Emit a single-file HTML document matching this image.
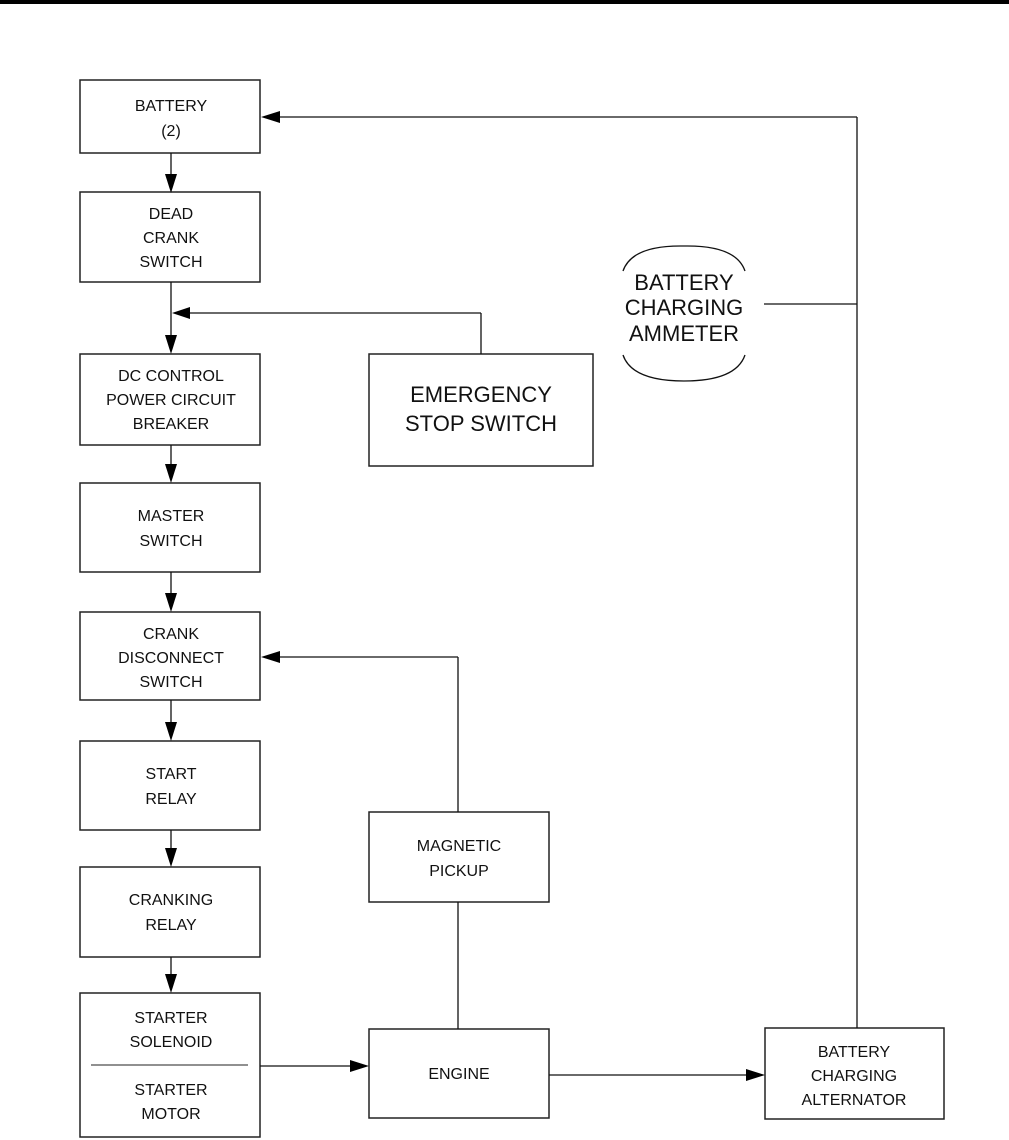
<!DOCTYPE html>
<html><head><style>
html,body{margin:0;padding:0;background:#fff;}
svg{display:block;}
text{font-family:"Liberation Sans",Arial,sans-serif;fill:#111;text-anchor:middle;}
</style></head><body>
<svg width="1009" height="1140" viewBox="0 0 1009 1140" xmlns="http://www.w3.org/2000/svg">
<rect x="0" y="0" width="1009" height="4" fill="#000"/>
<g fill="none" stroke="#222" stroke-width="1.5">
<rect x="80" y="80" width="180" height="73"/>
<rect x="80" y="192" width="180" height="90"/>
<rect x="80" y="354" width="180" height="91"/>
<rect x="80" y="483" width="180" height="89"/>
<rect x="80" y="612" width="180" height="88"/>
<rect x="80" y="741" width="180" height="89"/>
<rect x="80" y="867" width="180" height="90"/>
<rect x="80" y="993" width="180" height="144"/>
<line x1="91" y1="1065" x2="248" y2="1065" stroke-width="1"/>
<rect x="369" y="354" width="224" height="112"/>
<rect x="369" y="812" width="180" height="90"/>
<rect x="369" y="1029" width="180" height="89"/>
<rect x="765" y="1028" width="179" height="91"/>
</g>
<g stroke="#111" stroke-width="1.3" fill="none">
<line x1="857" y1="117" x2="275" y2="117"/>
<line x1="857" y1="117" x2="857" y2="1028"/>
<line x1="764" y1="304" x2="857" y2="304"/>
<line x1="171" y1="153" x2="171" y2="178"/>
<line x1="171" y1="282" x2="171" y2="340"/>
<line x1="481" y1="313" x2="185" y2="313"/>
<line x1="481" y1="313" x2="481" y2="354"/>
<line x1="171" y1="445" x2="171" y2="469"/>
<line x1="171" y1="572" x2="171" y2="598"/>
<line x1="171" y1="700" x2="171" y2="727"/>
<line x1="171" y1="830" x2="171" y2="853"/>
<line x1="171" y1="957" x2="171" y2="979"/>
<line x1="458" y1="657" x2="275" y2="657"/>
<line x1="458" y1="657" x2="458" y2="812"/>
<line x1="458" y1="902" x2="458" y2="1029"/>
<line x1="260" y1="1066" x2="355" y2="1066"/>
<line x1="549" y1="1075" x2="751" y2="1075"/>
<path d="M623 271 Q632 245 684 246 Q736 245 745 271"/>
<path d="M623 355 Q632 381 684 381 Q736 381 745 355"/>
</g>
<g fill="#000">
<polygon points="261,117 280,111 280,123"/>
<polygon points="171,193 165,174 177,174"/>
<polygon points="172,313 190,307 190,319"/>
<polygon points="171,354 165,335 177,335"/>
<polygon points="171,483 165,464 177,464"/>
<polygon points="171,612 165,593 177,593"/>
<polygon points="261,657 280,651 280,663"/>
<polygon points="171,741 165,722 177,722"/>
<polygon points="171,867 165,848 177,848"/>
<polygon points="171,993 165,974 177,974"/>
<polygon points="369,1066 350,1060 350,1072"/>
<polygon points="765,1075 746,1069 746,1081"/>
</g>
<g font-size="16">
<text x="171" y="111">BATTERY</text>
<text x="171" y="136">(2)</text>
<text x="171" y="219">DEAD</text>
<text x="171" y="243">CRANK</text>
<text x="171" y="267">SWITCH</text>
<text x="171" y="381">DC CONTROL</text>
<text x="171" y="405">POWER CIRCUIT</text>
<text x="171" y="429">BREAKER</text>
<text x="171" y="521">MASTER</text>
<text x="171" y="546">SWITCH</text>
<text x="171" y="639">CRANK</text>
<text x="171" y="663">DISCONNECT</text>
<text x="171" y="687">SWITCH</text>
<text x="171" y="779">START</text>
<text x="171" y="804">RELAY</text>
<text x="171" y="905">CRANKING</text>
<text x="171" y="930">RELAY</text>
<text x="171" y="1023">STARTER</text>
<text x="171" y="1047">SOLENOID</text>
<text x="171" y="1095">STARTER</text>
<text x="171" y="1119">MOTOR</text>
<text x="459" y="851">MAGNETIC</text>
<text x="459" y="876">PICKUP</text>
<text x="459" y="1079">ENGINE</text>
<text x="854" y="1057">BATTERY</text>
<text x="854" y="1081">CHARGING</text>
<text x="854" y="1105">ALTERNATOR</text>
</g>
<g font-size="22">
<text x="481" y="402">EMERGENCY</text>
<text x="481" y="431">STOP SWITCH</text>
<text x="684" y="290">BATTERY</text>
<text x="684" y="315">CHARGING</text>
<text x="684" y="341">AMMETER</text>
</g>
</svg>
</body></html>
